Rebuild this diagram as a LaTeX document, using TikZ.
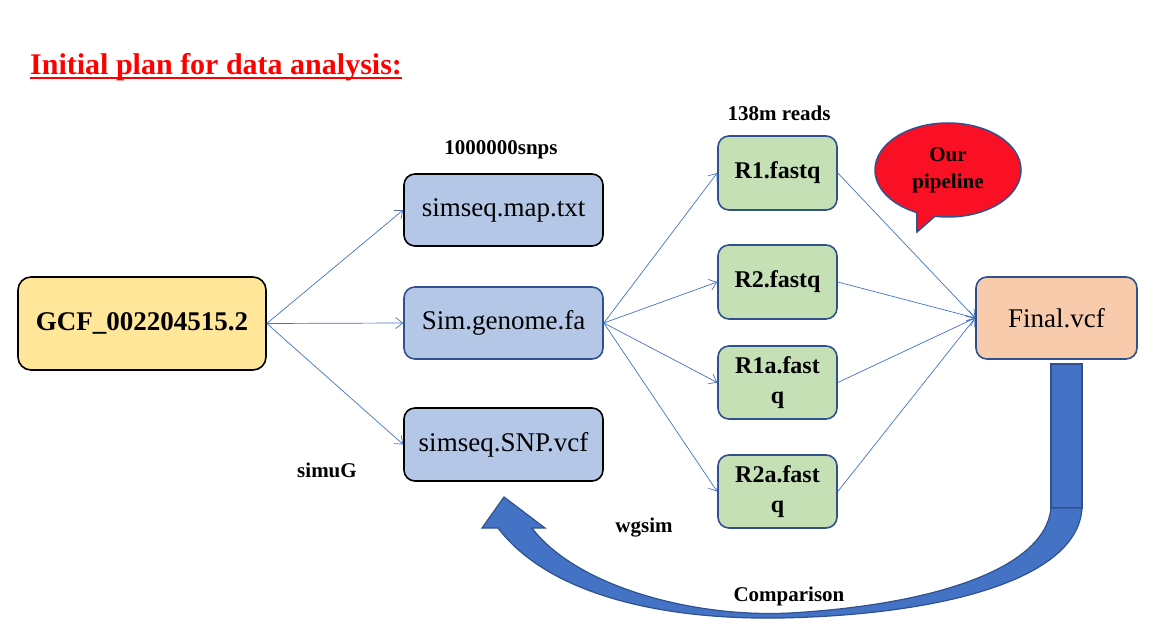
\documentclass[tikz,border=0pt]{standalone}
\usepackage{fontspec}
\setmainfont{Liberation Serif}
\usetikzlibrary{arrows.meta,shapes.callouts}
\definecolor{rawyellow}{RGB}{255,230,153}
\definecolor{simblue}{RGB}{180,199,231}
\definecolor{readgreen}{RGB}{197,224,180}
\definecolor{vcfpeach}{RGB}{248,203,173}
\definecolor{edgeblue}{RGB}{47,82,143}
\definecolor{linkblue}{RGB}{68,114,196}
\definecolor{bubblered}{RGB}{250,16,36}

\begin{document}
\begin{tikzpicture}[x=1pt,y=-1pt,
    box/.style={draw,line width=1.6pt,rounded corners=11pt,inner sep=0pt,align=center},
    link/.style={linkblue,line width=0.7pt,-{Straight Barb[length=7pt,width=11pt]}},
    tag/.style={font=\fontsize{21}{26}\selectfont\bfseries,inner sep=0pt}]
        \useasboundingbox (0,0) rectangle (1163,639);
        % title
        \node[anchor=base west,inner sep=0pt,red,font=\fontsize{30}{36}\selectfont\bfseries] (title) at (30,75) {Initial plan for data analysis:};
        \draw[red,line width=2pt] ([yshift=-3.5pt]title.base west) -- ([yshift=-3.5pt]title.base east);
        % boxes
        \node[box,fill=rawyellow,rounded corners=13pt,minimum width=248,minimum height=93,font=\fontsize{27}{32}\selectfont\bfseries] (gcf) at (142,323.5) {GCF\_002204515.2};
        \node[box,fill=simblue,minimum width=199,minimum height=72,font=\fontsize{27}{32}\selectfont] (map) at (503.5,210) {simseq.map.txt};
        \node[box,fill=simblue,draw=edgeblue,minimum width=199,minimum height=72,font=\fontsize{27}{32}\selectfont] (genome) at (503.5,323) {Sim.genome.fa};
        \node[box,fill=simblue,minimum width=199,minimum height=73,font=\fontsize{27}{32}\selectfont] (snp) at (503.5,444.5) {simseq.SNP.vcf};
        \node[box,fill=readgreen,draw=edgeblue,minimum width=119,minimum height=74,font=\fontsize{24}{30}\selectfont\bfseries] (r1) at (777.5,173) {R1.fastq};
        \node[box,fill=readgreen,draw=edgeblue,minimum width=119,minimum height=74,font=\fontsize{24}{30}\selectfont\bfseries] (r2) at (777.5,282) {R2.fastq};
        \node[box,fill=readgreen,draw=edgeblue,minimum width=119,minimum height=73,font=\fontsize{24}{30}\selectfont\bfseries] (r1a) at (777.5,382.5) {R1a.fast\\q};
        \node[box,fill=readgreen,draw=edgeblue,minimum width=119,minimum height=73,font=\fontsize{24}{30}\selectfont\bfseries] (r2a) at (777.5,491.5) {R2a.fast\\q};
        \node[box,fill=vcfpeach,draw=edgeblue,minimum width=161,minimum height=82,font=\fontsize{27}{32}\selectfont] (final) at (1056.5,318) {Final.vcf};
        \node[ellipse callout,draw=edgeblue,fill=bubblered,line width=1.5pt,minimum width=146,minimum height=94,inner sep=0pt,align=center,
          callout absolute pointer={(917,232)},font=\fontsize{21}{27}\selectfont\bfseries] (bubble) at (948,170) {Our\\pipeline};
        % labels
        \node[tag] (snps) at (501,150) {1000000snps};
        \node[tag] (reads) at (779,113) {138m reads};
        \node[tag] (simug) at (327,470) {simuG};
        \node[tag] (wgsim) at (644,528) {wgsim};
        % connectors
        \foreach \t in {map,genome,snp} \draw[link] (gcf.east) -- (\t.west);
        \foreach \t in {r1,r2,r1a,r2a} \draw[link] (genome.east) -- (\t.west);
        \foreach \s in {r1,r2,r1a,r2a} \draw[link] (\s.east) -- (final.west);
        % comparison arrow
        \draw[edgeblue,fill=linkblue,line width=1.2pt] (1051,364) rectangle (1082,508);
        \draw[edgeblue,fill=linkblue,line width=1.2pt] (1082,508)
          .. controls (1078,580) and (940,615) .. (780,618)
          .. controls (650,620) and (545,590) .. (498,528)
          -- (482,528) -- (504,497) -- (545,528) -- (532,528)
          .. controls (575,585) and (690,618) .. (790,613)
          .. controls (930,605) and (1045,570) .. (1051,508) -- cycle;
        \node[tag] (cmp) at (789,596) {Comparison};
\end{tikzpicture}
\end{document}
